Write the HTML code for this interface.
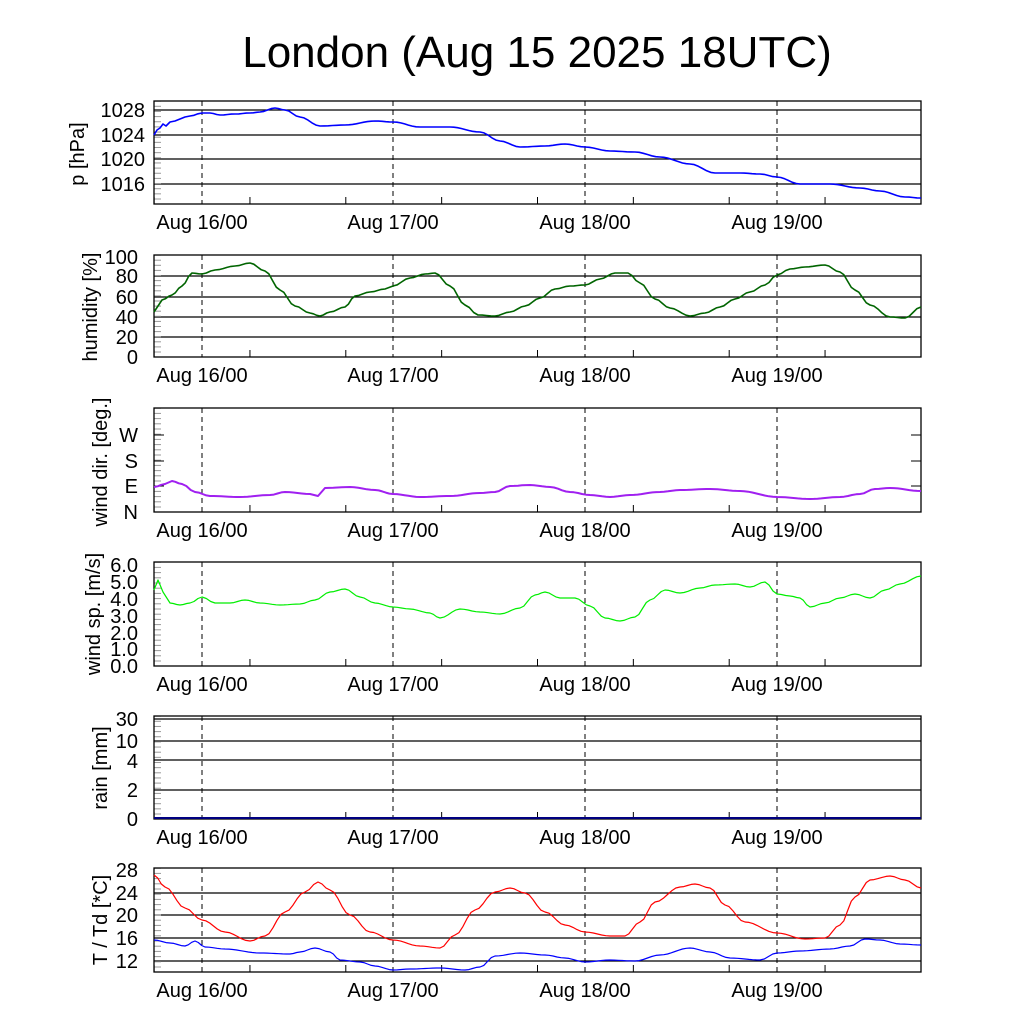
<!DOCTYPE html>
<html><head><meta charset="utf-8"><style>
html,body{margin:0;padding:0;background:#fff}
svg{display:block}
text{font-family:"Liberation Sans",sans-serif;fill:#000}
</style></head><body>
<svg id="s" width="1024" height="1024" xmlns="http://www.w3.org/2000/svg">
<rect width="1024" height="1024" fill="#fff"/>
<text x="537" y="67" font-size="44" text-anchor="middle">London (Aug 15 2025 18UTC)</text>
<g font-size="20" text-anchor="end">
<text x="145" y="117">1028</text><text x="145" y="142">1024</text><text x="145" y="166">1020</text><text x="145" y="191">1016</text>
<text x="138" y="264">100</text><text x="138" y="283">80</text><text x="138" y="304">60</text><text x="138" y="324">40</text><text x="138" y="344">20</text><text x="138" y="364">0</text>
<text x="138" y="442">W</text><text x="138" y="468">S</text><text x="138" y="493">E</text><text x="138" y="519">N</text>
<text x="138" y="572">6.0</text><text x="138" y="589">5.0</text><text x="138" y="606">4.0</text><text x="138" y="623">3.0</text><text x="138" y="640">2.0</text><text x="138" y="656">1.0</text><text x="138" y="673">0.0</text>
<text x="138" y="726">30</text><text x="138" y="748">10</text><text x="138" y="768">4</text><text x="138" y="797">2</text><text x="138" y="826">0</text>
<text x="138" y="877">28</text><text x="138" y="900">24</text><text x="138" y="922">20</text><text x="138" y="945">16</text><text x="138" y="968">12</text>
</g>
<g font-size="20" text-anchor="middle">
<text transform="translate(84,154) rotate(-90)">p [hPa]</text>
<text transform="translate(97,307) rotate(-90)">humidity [%]</text>
<text transform="translate(107,462) rotate(-90)">wind dir. [deg.]</text>
<text transform="translate(100,614) rotate(-90)">wind sp. [m/s]</text>
<text transform="translate(107,768) rotate(-90)">rain [mm]</text>
<text transform="translate(107,920) rotate(-90)">T / Td [*C]</text>
</g>
<g id="g"></g>
</svg>
<script>
const NS="http://www.w3.org/2000/svg",G=document.getElementById('g');
function el(t,a,txt){const e=document.createElementNS(NS,t);for(const k in a)e.setAttribute(k,a[k]);if(txt)e.textContent=txt;G.appendChild(e);return e;}
const X0=154,X1=921,days=[202,393,585,777];
const panels=[
 {t:101,b:204,grid:[110,135,159,184],minor:[]},
 {t:255,b:357,grid:[276,297,317,337],minor:[]},
 {t:408,b:512,grid:[],minor:[435,461,486]},
 {t:562,b:666,grid:[],minor:[]},
 {t:716,b:819,grid:[719,741,760,790],minor:[]},
 {t:868,b:972,grid:[893,915,938,961],minor:[]}];
panels.forEach((p,i)=>{
 p.grid.forEach(y=>el('line',{x1:X0,x2:X1,y1:y,y2:y,stroke:'#000','stroke-width':1.3}));
 for(let y=p.b-5;y>p.t;y-=(p.b-p.t)/20){el('line',{x1:X0,x2:X0+7,y1:y,y2:y,stroke:'#999','stroke-width':1});}
 p.minor.forEach(y=>{el('line',{x1:X0,x2:X0+10,y1:y,y2:y,stroke:'#000'});el('line',{x1:X1-10,x2:X1,y1:y,y2:y,stroke:'#000'});});
 days.forEach(x=>el('line',{x1:x,x2:x,y1:p.t,y2:p.b,stroke:'#000','stroke-dasharray':'5,4'}));
 for(let k=0;k<8;k++){const x=202+k*95.85-47.9;if(x>X0&&x<X1)el('line',{x1:x,x2:x,y1:p.b-7,y2:p.b,stroke:'#000'});}
 el('rect',{x:X0,y:p.t,width:X1-X0,height:p.b-p.t,fill:'none',stroke:'#000','stroke-width':1.3});
 const ly=p.b+25;
 ['Aug 16/00','Aug 17/00','Aug 18/00','Aug 19/00'].forEach((s,j)=>el('text',{x:days[j],y:ly,'font-size':20,'text-anchor':'middle'},s));
});
function smooth(pts){const out=[];for(let i=0;i<pts.length-1;i++){const a=pts[i],b=pts[i+1];const n=Math.max(1,Math.round((b[0]-a[0])/4));for(let k=0;k<n;k++){const t=k/n,s=(1-Math.cos(Math.PI*t))/2;out.push([a[0]+(b[0]-a[0])*t,a[1]+(b[1]-a[1])*s]);}}out.push(pts[pts.length-1]);return out;}
function line(pts,c,w){el('polyline',{points:smooth(pts).map(p=>p[0].toFixed(1)+','+p[1].toFixed(1)).join(' '),fill:'none',stroke:c,'stroke-width':w||1.3,'stroke-linejoin':'round'});}
line([[154,135],[157,130],[160,128],[163,124],[166,126],[170,122],[175,121],[180,119],[185,117],[190,116],[202,113],[210,113],[220,115],[235,114],[250,113],[260,112],[275,108],[285,110],[300,117],[320,126],[345,125],[375,121],[393,122],[420,127],[450,127],[480,132],[500,141],[520,147],[545,146],[565,144],[585,147],[610,151],[635,152],[660,157],[690,164],[715,173],[740,173],[760,174],[777,177],[800,184],[830,184],[860,188],[880,191],[905,197],[921,198]],'#0000ff',1.6);
line([[154,312],[162,300],[172,295],[182,286],[192,273],[202,274],[215,270],[235,266],[250,263],[265,271],[280,290],[295,306],[310,313],[320,316],[330,312],[345,307],[355,296],[370,292],[385,289],[393,286],[410,278],[425,274],[435,273],[450,286],[465,305],[478,315],[495,316],[510,312],[525,306],[540,298],[555,289],[570,286],[585,285],[600,279],[615,273],[628,273],[640,283],[655,299],[670,308],[690,316],[705,313],[720,307],[735,299],[750,292],[765,285],[777,275],[790,269],[805,267],[825,265],[840,272],[855,290],[870,305],[890,317],[905,318],[921,307]],'#006400',1.6);
line([[154,487],[165,484],[172,481],[182,484],[195,492],[210,496],[240,497],[270,495],[285,492],[310,494],[318,496],[325,488],[350,487],[375,490],[393,494],[420,497],[450,496],[480,493],[495,492],[510,486],[530,485],[550,487],[570,492],[590,495],[610,497],[630,495],[660,492],[680,490],[710,489],[740,491],[777,497],[810,499],[840,497],[860,494],[875,489],[890,488],[921,491]],'#a020f0',2);
line([[154,590],[158,580],[163,592],[170,603],[180,605],[190,603],[202,597],[215,603],[230,603],[245,600],[260,603],[280,605],[300,604],[315,600],[330,592],[345,589],[360,597],[375,603],[393,607],[410,609],[430,613],[440,618],[460,609],[480,612],[500,614],[520,608],[535,595],[545,592],[560,598],[575,598],[590,606],[605,618],[620,621],[635,617],[650,600],[665,590],[680,593],[700,588],[715,585],[735,584],[750,587],[765,582],[777,594],[790,596],[800,598],[810,607],[825,603],[840,598],[855,594],[870,598],[885,590],[900,584],[921,576]],'#00ee00',1.2);
el('line',{x1:154,x2:921,y1:818,y2:818,stroke:'#000080','stroke-width':2});
line([[154,875],[165,887],[185,908],[202,920],[225,932],[250,941],[265,936],[285,912],[305,892],[318,882],[330,890],[350,915],[370,932],[393,940],[420,946],[440,948],[455,935],[475,910],[495,892],[510,888],[525,893],[545,912],[565,925],[585,932],[610,936],[625,936],[640,922],[655,902],[680,887],[695,884],[710,888],[725,905],[745,922],[777,933],[805,939],[825,938],[840,925],[855,897],[870,880],[890,876],[905,880],[921,888]],'#ff0000',1.2);
line([[154,940],[170,943],[185,946],[195,941],[205,947],[225,949],[260,953],[290,954],[300,952],[315,948],[330,952],[340,960],[360,962],[375,966],[393,970],[410,969],[440,968],[465,970],[480,967],[495,956],[520,953],[545,955],[565,958],[585,962],[610,960],[635,961],[660,955],[690,948],[710,952],[730,958],[760,960],[777,953],[800,951],[830,949],[850,946],[865,939],[880,940],[900,944],[921,945]],'#0000ff',1.2);
</script>
</body></html>
